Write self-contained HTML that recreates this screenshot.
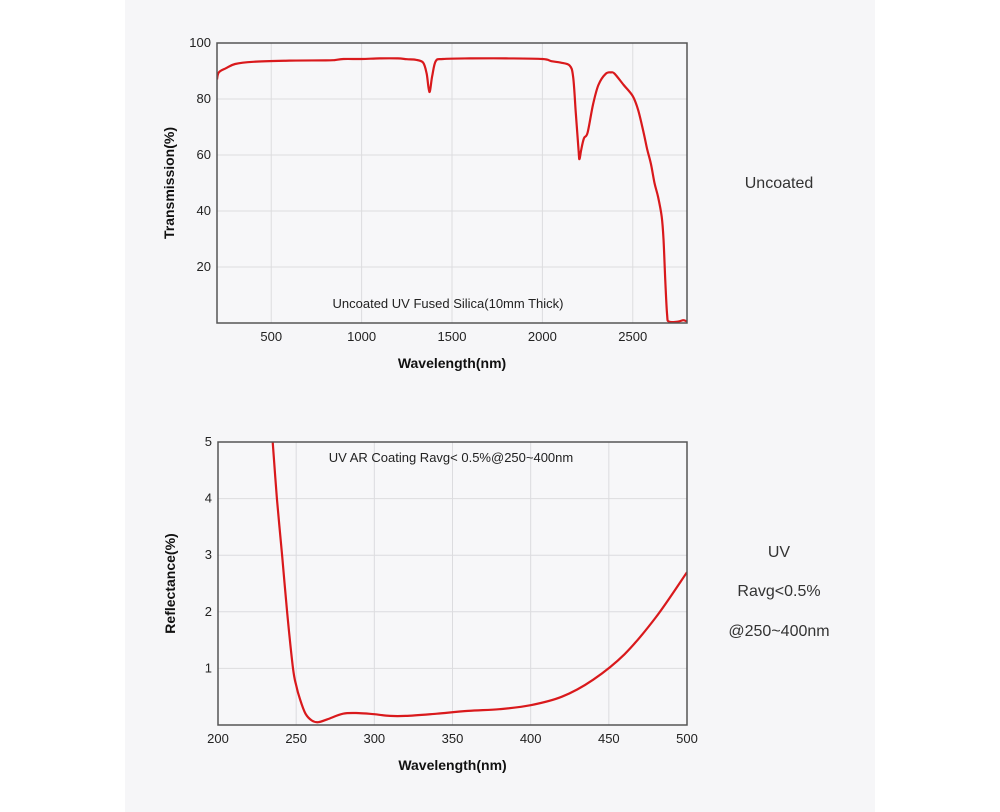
<!DOCTYPE html>
<html><head><meta charset="utf-8"><style>
html,body{margin:0;padding:0;background:#fff;}
svg{display:block;font-family:"Liberation Sans",sans-serif;}
</style></head><body>
<svg id="s" width="1000" height="812" viewBox="0 0 1000 812">
<rect x="125" y="0" width="750" height="812" fill="#f6f6f8"/>
<g id="g1"></g>
<g id="g2"></g>
<text x="779" y="188" font-size="16" fill="#333" text-anchor="middle">Uncoated</text>
<text x="779" y="557" font-size="16" fill="#333" text-anchor="middle">UV</text>
<text x="779" y="596" font-size="16" fill="#333" text-anchor="middle">Ravg&lt;0.5%</text>
<text x="779" y="636" font-size="16" fill="#333" text-anchor="middle">@250~400nm</text>
</svg>
<script>
const tWave=[200,210,250,300,400,600,800,850,900,1000,1100,1200,1250,1300,1340,1360,1375,1390,1410,1450,1600,1800,2000,2050,2100,2150,2170,2185,2200,2205,2215,2230,2250,2280,2310,2350,2380,2400,2450,2500,2530,2560,2580,2600,2620,2640,2660,2670,2680,2690,2700,2750,2780,2800];
const tVal=[87,89.5,91,92.5,93.3,93.7,93.8,93.9,94.3,94.3,94.5,94.5,94.2,94,93,89,82.5,88,93.5,94.3,94.5,94.5,94.3,93.5,93,92,88,75,62,58.5,62,66,68,78,85,89,89.5,89,85,81,76,68,62,57,50,45,38,30,15,3,0.5,0.5,1,0.5];
const tXTicks=[500,1000,1500,2000,2500];
const tYTicks=[20,40,60,80,100];
const rWave=[235,237.7,241,244.2,248,250,252.5,256,260,264,270,280,290,300,310,320,340,360,380,400,420,440,460,480,500];
const rVal=[5,4,3,2,1,0.7,0.45,0.2,0.08,0.05,0.1,0.2,0.21,0.19,0.16,0.16,0.2,0.25,0.28,0.35,0.5,0.8,1.25,1.9,2.7];
const rXTicks=[200,250,300,350,400,450,500];
const rYTicks=[1,2,3,4,5];
const NS='http://www.w3.org/2000/svg';
function mk(p,t,a,txt){const e=document.createElementNS(NS,t);for(const k in a)e.setAttribute(k,a[k]);if(txt!==undefined)e.textContent=txt;p.appendChild(e);return e;}
function smooth(P){let d='M'+P[0][0].toFixed(1)+','+P[0][1].toFixed(1);
 for(let i=0;i<P.length-1;i++){const p0=P[i-1]||P[i],p1=P[i],p2=P[i+1],p3=P[i+2]||p2;
  const c1=[p1[0]+(p2[0]-p0[0])/6,p1[1]+(p2[1]-p0[1])/6],c2=[p2[0]-(p3[0]-p1[0])/6,p2[1]-(p3[1]-p1[1])/6];
  d+=' C'+c1.map(v=>v.toFixed(1))+' '+c2.map(v=>v.toFixed(1))+' '+p2.map(v=>v.toFixed(1));}
 return d;}
function chart(g,box,xd,yd,xt,yt,xs,ys,ylab,note,noteX,noteY,pref){
 const X=v=>box.x+(v-xd[0])/(xd[1]-xd[0])*box.w;
 const Y=v=>box.y+box.h-(v-yd[0])/(yd[1]-yd[0])*box.h;
 const bg=mk(g,'rect',{x:box.x,y:box.y,width:box.w,height:box.h,fill:'#f7f7f9'});
 
 
 xt.forEach(v=>{const l=mk(g,'line',{x1:X(v),x2:X(v),y1:box.y,y2:box.y+box.h,stroke:'#dcdcdf','stroke-width':1});
  
  
  const t=mk(g,'text',{x:X(v),y:box.y+box.h+18,'font-size':13,fill:'#222','text-anchor':'middle'},String(v));
  
  });
 yt.forEach(v=>{const l=mk(g,'line',{x1:box.x,x2:box.x+box.w,y1:Y(v),y2:Y(v),stroke:'#dcdcdf','stroke-width':1});
  
  
  const t=mk(g,'text',{x:box.x-6,y:Y(v)+4,'font-size':13,fill:'#222','text-anchor':'end'},String(v));
  
  });
 const P=xs.map((v,i)=>[X(v),Y(ys[i])]);
 const cp=mk(g,'clipPath',{id:pref+'clip'});mk(cp,'rect',{x:box.x,y:box.y,width:box.w,height:box.h});
 const pl=mk(g,'path',{d:smooth(P),fill:'none',stroke:'#d9191c','stroke-width':2.2,'stroke-linejoin':'round','clip-path':'url(#'+pref+'clip)'});
 
 
 const fr=mk(g,'rect',{x:box.x,y:box.y,width:box.w,height:box.h,fill:'none',stroke:'#555','stroke-width':1.5});
 
 
 const xl=mk(g,'text',{x:box.x+box.w/2,y:box.y+box.h+45,'font-size':14,'font-weight':'bold',fill:'#111','text-anchor':'middle'},'Wavelength(nm)');
 
 
 const cy=box.y+box.h/2, cx=box.x-43;
 const yl=mk(g,'text',{x:cx,y:cy,'font-size':14,'font-weight':'bold',fill:'#111','text-anchor':'middle',transform:'rotate(-90 '+cx+' '+cy+')'},ylab);
 
 
 const nt=mk(g,'text',{x:noteX,y:noteY,'font-size':13,fill:'#222','text-anchor':'middle'},note);
 
 
}
chart(document.getElementById('g1'),{x:217,y:43,w:470,h:280},[200,2800],[0,100],tXTicks,tYTicks,tWave,tVal,'Transmission(%)','Uncoated UV Fused Silica(10mm Thick)',448,308,'transmission');
chart(document.getElementById('g2'),{x:218,y:442,w:469,h:283},[200,500],[0,5],rXTicks,rYTicks,rWave,rVal,'Reflectance(%)','UV AR Coating Ravg< 0.5%@250~400nm',451,462,'reflectance');
</script>
</body></html>
